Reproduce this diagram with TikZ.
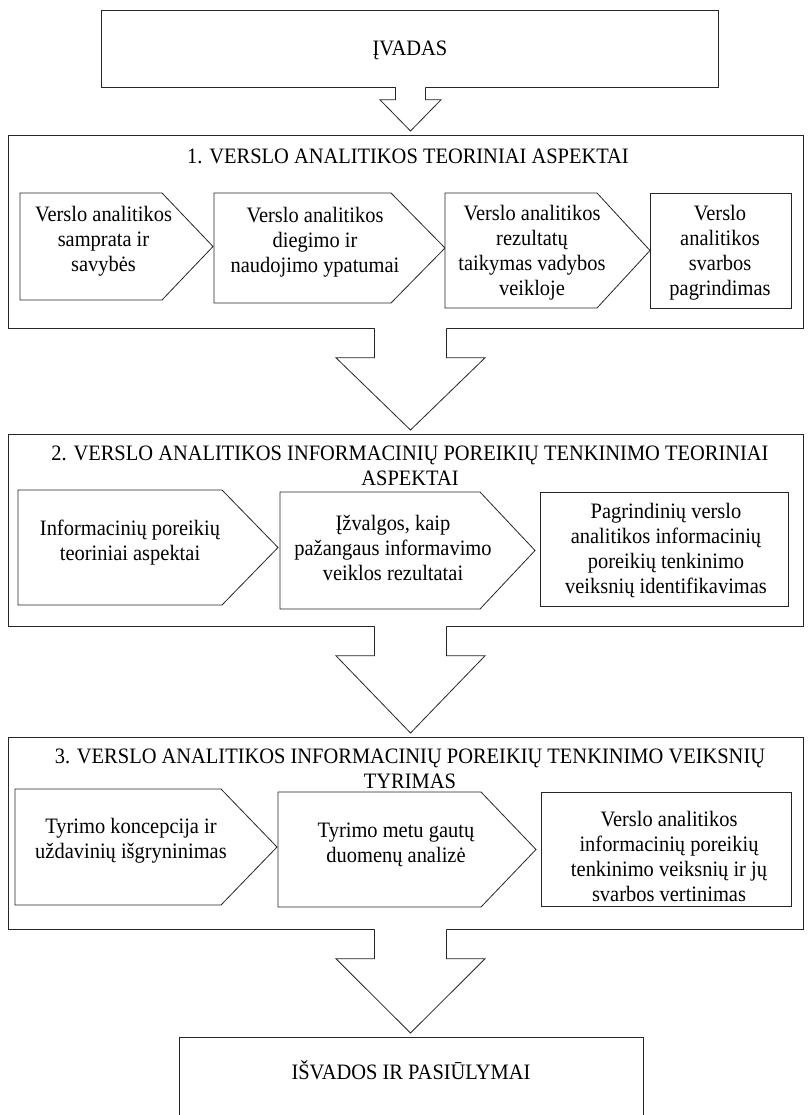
\documentclass[tikz,border=0pt]{standalone}
\usepackage{fontspec}
\setmainfont{Liberation Serif}[FakeStretch=0.93]
\usetikzlibrary{calc}
\tikzset{
  frame/.style={draw=black!85, line width=0.8pt, inner sep=0pt},
  boxline/.style={draw=black!85, line width=0.8pt, fill=white, line join=miter},
  arrline/.style={draw=black!85, line width=0.8pt, line join=miter},
  txt/.style={align=center, font=\fontsize{22}{25}\selectfont, inner sep=0pt, text=black},
}
% left, top, rect right, tip, bottom
\newcommand\pentbox[5]{%
  \draw[boxline] (#1,#2) -- (#3,#2) -- (#4,{(#2+#5)/2}) -- (#3,#5) -- (#1,#5) -- cycle;}
% from, to, half stem, half head, stem length
\newcommand\blockarrow[5]{%
  \fill[white] ($(#1.south -| ax)+(-#3,-2)$) -- ($(#1.south -| ax)+(-#3,#5)$)
    -- ($(#1.south -| ax)+(-#4,#5)$) -- ($(#2.north -| ax)+(0,-4)$)
    -- ($(#1.south -| ax)+(#4,#5)$) -- ($(#1.south -| ax)+(#3,#5)$)
    -- ($(#1.south -| ax)+(#3,-2)$) -- cycle;
  \draw[arrline] ($(#1.south -| ax)+(-#3,-0.4)$) -- ($(#1.south -| ax)+(-#3,#5)$)
    -- ($(#1.south -| ax)+(-#4,#5)$) -- ($(#2.north -| ax)+(0,-4)$)
    -- ($(#1.south -| ax)+(#4,#5)$) -- ($(#1.south -| ax)+(#3,#5)$)
    -- ($(#1.south -| ax)+(#3,-0.4)$);}
\begin{document}
\begin{tikzpicture}[x=1pt,y=-1pt]
\useasboundingbox[fill=white] (0,0) rectangle (808,1115);
\coordinate (ax) at (410.5,0);

% intro
\node[frame, anchor=north west, minimum width=617, minimum height=77] (intro) at (101,10) {};
\node[txt] (introT) at (410,50) {ĮVADAS};

% sections
\node[frame, anchor=north west, minimum width=795, minimum height=193] (s1) at (8,135) {};
\node[frame, anchor=north west, minimum width=795, minimum height=192] (s2) at (8,434) {};
\node[frame, anchor=north west, minimum width=795, minimum height=192] (s3) at (8,737) {};
\begin{scope}
  \clip (0,0) rectangle (808,1115);
  \node[frame, anchor=north west, minimum width=464, minimum height=120] (fin) at (179,1037) {};
\end{scope}
\node[txt] (finT) at (411,1070) {IŠVADOS IR PASIŪLYMAI};

% section titles
\node[txt] (s1T) at (408,156) {1. VERSLO ANALITIKOS TEORINIAI ASPEKTAI};
\node[txt] (s2T) at (410,466) {2. VERSLO ANALITIKOS INFORMACINIŲ POREIKIŲ TENKINIMO TEORINIAI\\ASPEKTAI};
\node[txt] (s3T) at (410,769) {3. VERSLO ANALITIKOS INFORMACINIŲ POREIKIŲ TENKINIMO VEIKSNIŲ\\TYRIMAS};

% section 1 boxes
\pentbox{20}{193}{162}{213}{300}
\pentbox{214}{193}{391}{445}{303}
\pentbox{445}{193}{597}{650}{308}
\draw[boxline] (650,193) rectangle (791,308);
\node[txt] (t11) at (103.5,241) {Verslo analitikos\\samprata ir\\savybės};
\node[txt] (t12) at (315,242) {Verslo analitikos\\diegimo ir\\naudojimo ypatumai};
\node[txt] (t13) at (532,253) {Verslo analitikos\\rezultatų\\taikymas vadybos\\veikloje};
\node[txt] (t14) at (720,253) {Verslo\\analitikos\\svarbos\\pagrindimas};

% section 2 boxes
\pentbox{18}{490}{222}{278}{605}
\pentbox{280}{492}{480}{535}{609}
\draw[boxline] (540,492) rectangle (788,606);
\node[txt] (t21) at (130,543) {Informacinių poreikių\\teoriniai aspektai};
\node[txt] (t22) at (393,548) {Įžvalgos, kaip\\pažangaus informavimo\\veiklos rezultatai};
\node[txt] (t23) at (666,551) {Pagrindinių verslo\\analitikos informacinių\\poreikių tenkinimo\\veiksnių identifikavimas};

% section 3 boxes
\pentbox{15}{789}{221}{277}{905}
\pentbox{278}{792}{481}{536}{907}
\draw[boxline] (541,792) rectangle (791,906);
\node[txt] (t31) at (131,841) {Tyrimo koncepcija ir\\uždavinių išgryninimas};
\node[txt] (t32) at (396,845) {Tyrimo metu gautų\\duomenų analizė};
\node[txt] (t33) at (669,856) {Verslo analitikos\\informacinių poreikių\\tenkinimo veiksnių ir jų\\svarbos vertinimas};

% block arrows
\blockarrow{intro}{s1}{15}{30.5}{12}
\blockarrow{s1}{s2}{36}{74.5}{29}
\blockarrow{s2}{s3}{36}{74.5}{29}
\blockarrow{s3}{fin}{36}{74.5}{29}
\end{tikzpicture}
\end{document}
